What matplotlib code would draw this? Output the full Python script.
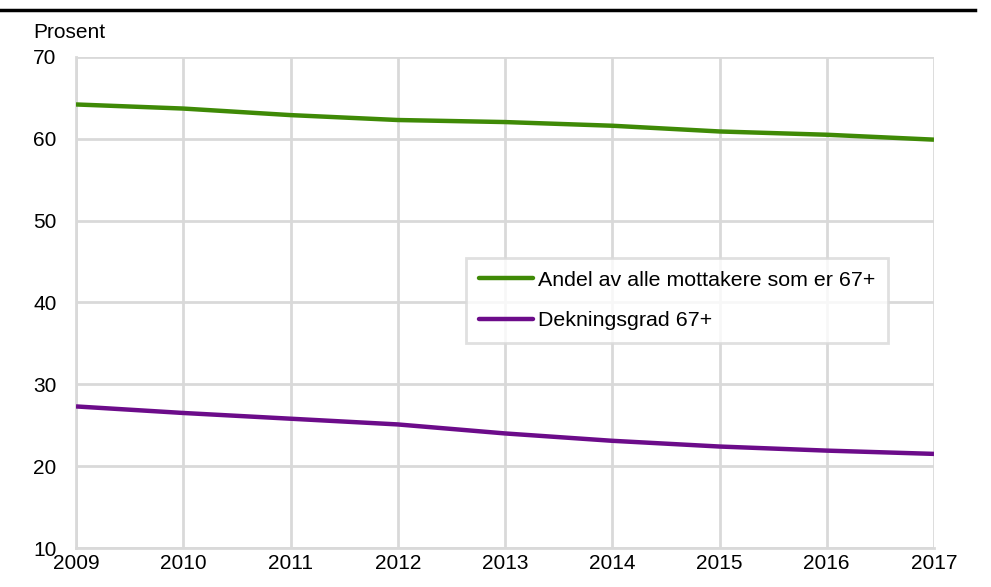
import matplotlib
matplotlib.use("Agg")
import matplotlib.pyplot as plt
from matplotlib.lines import Line2D

plt.rcParams['font.family'] = ['Liberation Sans', 'DejaVu Sans']

years = [2009, 2010, 2011, 2012, 2013, 2014, 2015, 2016, 2017]
andel_67 = [64.2, 63.7, 62.9, 62.3, 62.05, 61.6, 60.9, 60.5, 59.9]
dekning_67 = [27.3, 26.5, 25.8, 25.1, 24.0, 23.1, 22.4, 21.9, 21.5]
series_labels = ["Andel av alle mottakere som er 67+", "Dekningsgrad 67+"]
y_label = "Prosent"

fig = plt.figure(figsize=(9.91, 5.87), dpi=100)
W, H = 991, 587
ax = fig.add_axes([76 / W, 1 - 548 / H, (934 - 76) / W, (548 - 57) / H])

grid_c = "#d9d9d9"
green = "#3f8a06"
purple = "#6c0c8a"
FS = 15
LW = 3.2

ax.plot(years, andel_67, color=green, lw=LW, solid_capstyle="butt", zorder=3)
ax.plot(years, dekning_67, color=purple, lw=LW, solid_capstyle="butt", zorder=3)

ax.set_xlim(2009, 2017)
ax.set_ylim(10, 70)
ax.set_xticks(years)
ax.set_yticks(range(10, 71, 10))
ax.grid(True, color=grid_c, lw=2)
ax.set_axisbelow(True)
for s in ["top", "right"]:
    ax.spines[s].set_visible(False)
for s in ["left", "bottom"]:
    ax.spines[s].set_color(grid_c)
    ax.spines[s].set_linewidth(2)
ax.tick_params(length=0, labelsize=FS, colors="black")
ax.tick_params(axis="y", pad=14)
ax.tick_params(axis="x", pad=4)

fig.text(33 / W, 1 - 33 / H, y_label, fontsize=FS, ha="left", va="center")

handles = [Line2D([0], [0], color=green, lw=LW, solid_capstyle="round"),
           Line2D([0], [0], color=purple, lw=LW, solid_capstyle="round")]
leg = ax.legend(handles, series_labels, loc="upper left",
                bbox_to_anchor=((466 - 76) / (934 - 76), 1 - (258 - 57) / (548 - 57)),
                fontsize=15.4, frameon=True, fancybox=False, handlelength=2.55,
                handletextpad=0.2, labelspacing=1.0, borderpad=0.6,
                borderaxespad=0)
leg.get_frame().set_edgecolor(grid_c)
leg.get_frame().set_linewidth(2)

fig.add_artist(Line2D([0, 975 / W], [1 - 10 / H, 1 - 10 / H], color="black", lw=2.5,
                      transform=fig.transFigure))

fig.savefig("out.png", dpi=100)
